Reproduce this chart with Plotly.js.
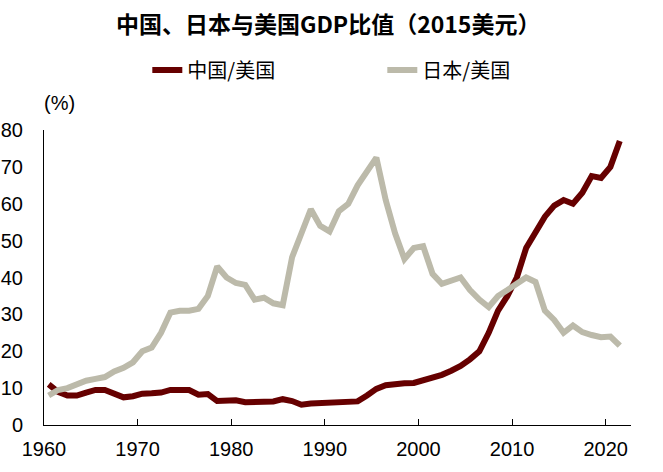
<!DOCTYPE html>
<html>
<head>
<meta charset="utf-8">
<script src="https://cdn.plot.ly/plotly-3.0.1.min.js"></script>
<style>
  body { margin: 0; background: #fff; }
  #chart { width: 663px; height: 472px; }
</style>
</head>
<body>
<div id="chart"></div>
<script>
// years 1960-2021
var years = [];
for (var y = 1960; y <= 2021; y++) years.push(y);

// 中国/美国 (%)
var chinaUS = [11.0, 9.0, 8.0, 8.0, 8.8, 9.5, 9.5, 8.5, 7.5, 7.8,
               8.5, 8.6, 8.8, 9.5, 9.3, 9.5, 8.2, 8.4, 6.5, 6.8,
               6.7, 6.2, 6.1, 6.3, 6.4, 7.0, 6.5, 5.5, 5.8, 6.0,
               5.9, 6.1, 6.3, 6.4, 8.0, 9.8, 10.8, 11.2, 11.3, 11.4,
               12.0, 12.8, 13.6, 14.7, 16.0, 17.8, 20.0, 25.0, 31.0, 35.0,
               40.0, 48.0, 52.0, 56.5, 59.5, 61.0, 60.0, 63.0, 67.5, 67.0,
               70.0, 77.0];

// 日本/美国 (%)
var japanUS = [8.0, 9.5, 10.0, 11.0, 12.0, 12.5, 13.0, 14.5, 15.5, 17.0,
               20.0, 21.0, 25.0, 30.5, 31.0, 31.0, 31.5, 35.0, 43.0, 40.0,
               38.5, 38.0, 34.0, 34.5, 33.0, 32.5, 45.5, 52.0, 58.5, 54.0,
               52.5, 58.0, 60.0, 65.0, 68.5, 72.5, 61.0, 52.0, 45.0, 48.0,
               48.5, 41.0, 38.3, 39.3, 40.0, 36.6, 34.0, 32.0, 35.0, 36.6,
               38.5, 40.0, 38.8, 31.0, 28.5, 25.0, 27.0, 25.2, 24.4, 23.8,
               24.0, 21.5];

var xTicks = [1960, 1970, 1980, 1990, 2000, 2010, 2020];

var cjk = '"Noto Sans CJK SC", "Liberation Sans", Arial, sans-serif';
var num = '"Liberation Sans", Arial, sans-serif';

var traces = [
  {
    x: years, y: chinaUS, name: '中国/美国',
    type: 'scatter', mode: 'lines',
    line: {color: '#660000', width: 6}
  },
  {
    x: years, y: japanUS, name: '日本/美国',
    type: 'scatter', mode: 'lines',
    line: {color: '#BCBAAA', width: 6}
  }
];

var layout = {
  width: 663, height: 472,
  margin: {l: 44, r: 32, t: 130, b: 47},
  paper_bgcolor: '#fff', plot_bgcolor: '#fff',
  title: {
    text: '<b>中国、日本与美国GDP比值（2015美元）</b>',
    font: {family: cjk, size: 23, color: '#000'},
    x: 0.495, xanchor: 'center', y: 0.948, yanchor: 'middle'
  },
  showlegend: true,
  legend: {
    orientation: 'h', x: 0.176, xanchor: 'left', y: 1.203, yanchor: 'middle',
    font: {family: cjk, size: 20, color: '#000'},
    entrywidth: 190, entrywidthmode: 'pixels',
    itemclick: false
  },
  xaxis: {
    range: [1959.5, 2022.2],
    tickmode: 'array',
    tickvals: xTicks.map(function (t) { return t - 0.5; }),
    ticktext: xTicks.map(String),
    ticks: 'inside', ticklen: 6, tickcolor: '#000',
    showline: true, linecolor: '#000', linewidth: 1,
    showgrid: false, zeroline: false,
    tickfont: {family: num, size: 20, color: '#000'},
    ticklabelstandoff: 6
  },
  yaxis: {
    range: [0, 80], dtick: 10,
    ticks: '', showline: true, linecolor: '#000', linewidth: 1,
    showgrid: false, zeroline: false,
    tickfont: {family: num, size: 20, color: '#000'},
    ticklabelstandoff: 16
  },
  annotations: [{
    text: '(%)', xref: 'paper', yref: 'paper',
    x: -0.003, y: 1.09, xanchor: 'left', yanchor: 'middle',
    showarrow: false, font: {family: num, size: 20, color: '#000'}
  }]
};

Plotly.newPlot('chart', traces, layout, {displayModeBar: false, staticPlot: true});
</script>
</body>
</html>
